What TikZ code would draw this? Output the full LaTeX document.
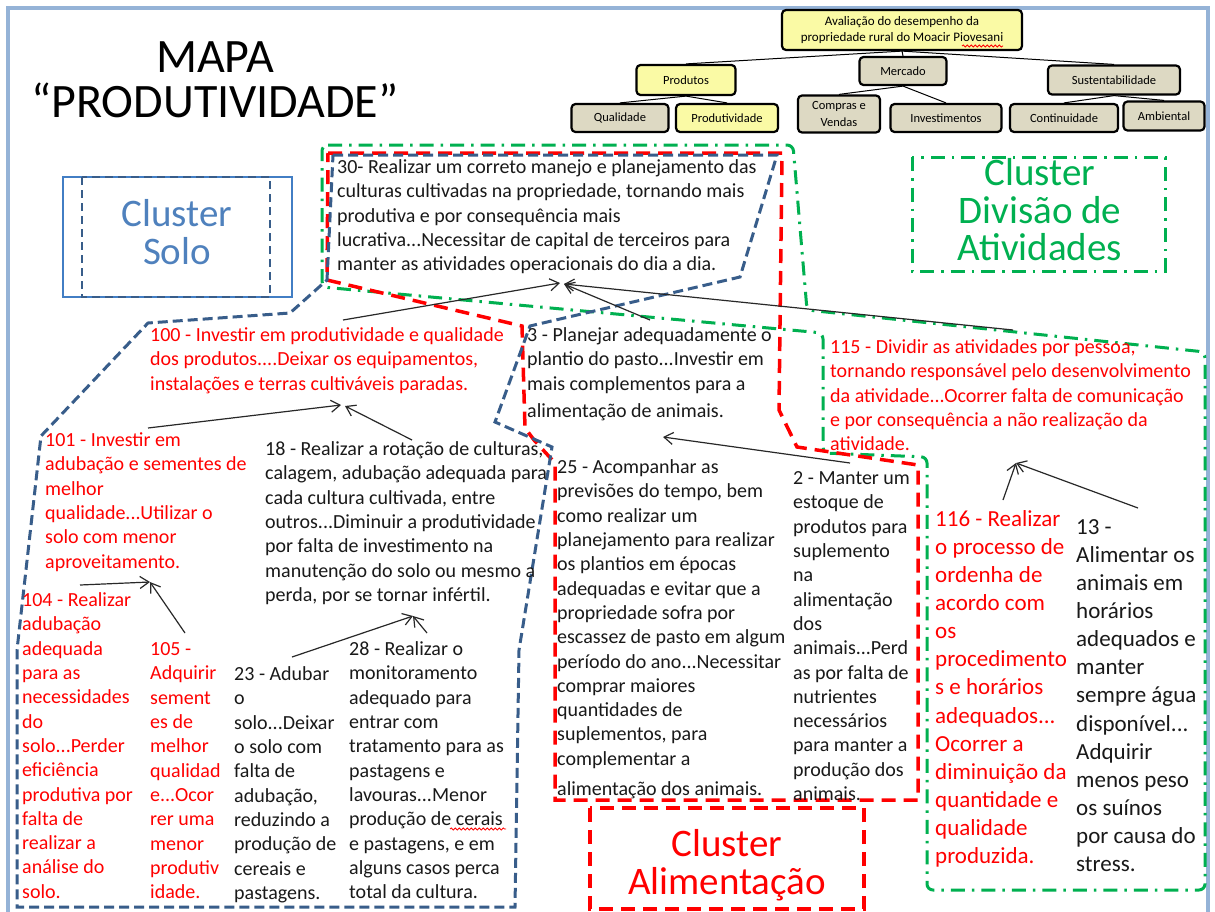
\documentclass[tikz,border=0pt]{standalone}
\usepackage{fontspec}
\setmainfont{Carlito}
\usetikzlibrary{arrows.meta,decorations.pathmorphing}

\definecolor{frameblue}{RGB}{149,179,215}
\definecolor{solotext}{RGB}{79,129,189}
\definecolor{sololine}{RGB}{56,93,138}
\definecolor{solorect}{RGB}{66,126,196}
\definecolor{clred}{RGB}{255,0,0}
\definecolor{clgreen}{RGB}{0,176,80}
\definecolor{txtred}{RGB}{255,0,0}
\definecolor{txtblack}{RGB}{25,25,25}
\definecolor{arrowgrey}{RGB}{40,40,40}
\definecolor{boxyellow}{RGB}{250,250,165}
\definecolor{boxtan}{RGB}{221,217,195}

\newcommand{\bodyfont}{\fontsize{20}{24.3}\selectfont}
\newcommand{\bigbodyfont}{\fontsize{23}{28.1}\selectfont}
\newcommand{\boxfont}{\fontsize{12.5}{17}\selectfont}
\newcommand{\rootfont}{\fontsize{13}{16}\selectfont}
\newcommand{\clusterfont}{\fontsize{39}{37.5}\selectfont}
\newcommand{\titlefont}{\fontsize{48}{45}\selectfont}

\begin{document}
\begin{tikzpicture}[x=1pt,y=-1pt,
  every node/.style={inner sep=0pt},
  blk/.style={anchor=north west, align=left, font=\bodyfont},
  blkbig/.style={anchor=north west, align=left, font=\bigbodyfont},
  redtxt/.style={text=txtred},
  darktxt/.style={text=txtblack},
  hnode/.style={draw=black, line width=2.2pt, rounded corners=4pt, font=\boxfont,
    align=center, text=black, inner sep=2pt},
  hyel/.style={hnode, fill=boxyellow},
  htan/.style={hnode, fill=boxtan},
  hlink/.style={draw=black, line width=1pt},
  arr/.style={draw=arrowgrey, line width=1.2pt, -{Straight Barb[length=9pt,width=12pt]}},
  soloborder/.style={draw=sololine, line width=3pt, dash pattern=on 10pt off 5pt},
  aliborder/.style={draw=clred, line width=3.5pt, dash pattern=on 14pt off 8pt},
  divborder/.style={draw=clgreen, line width=3pt, dash pattern=on 14pt off 7pt on 2.5pt off 7pt},
  clusterlabel/.style={align=center, font=\clusterfont},
  spell/.style={draw=clred, line width=0.8pt, decorate,
    decoration={snake, amplitude=1.1pt, segment length=4pt}}
]
\useasboundingbox (0,0) rectangle (1215,911);
\clip (0,0) rectangle (1215,911);
\fill[white] (0,0) rectangle (1215,911);

% outer frame
\draw[frameblue, line width=4.5pt] (8,8) rectangle (1208,940);

% title
\node[align=center, font=\titlefont, text=black] (title) at (215,80)
  {MAPA\\“PRODUTIVIDADE”};

% ---------- hierarchy ----------
\node[hyel, minimum width=240pt, minimum height=40pt, font=\rootfont] (root) at (902,30)
  {Avaliação do desempenho da\\propriedade rural do Moacir Piovesani};
\node[hyel, minimum width=99pt, minimum height=30pt] (prod) at (686,80) {Produtos};
\node[htan, minimum width=87pt, minimum height=28pt] (merc) at (903,71) {Mercado};
\node[htan, minimum width=132pt, minimum height=29pt] (sust) at (1114,80) {Sustentabilidade};
\node[htan, minimum width=97pt, minimum height=28pt] (qual) at (620,118) {Qualidade};
\node[hyel, minimum width=102pt, minimum height=28pt] (produt) at (727,118) {Produtividade};
\node[htan, minimum width=82pt, minimum height=37pt] (compras) at (839,114) {Compras e\\Vendas};
\node[htan, minimum width=111pt, minimum height=28pt] (invest) at (946,118) {Investimentos};
\node[htan, minimum width=108pt, minimum height=28pt] (cont) at (1064,118) {Continuidade};
\node[htan, minimum width=81pt, minimum height=29pt] (amb) at (1164,116) {Ambiental};
\draw[spell] (962,46) -- (1003,46);

\draw[hlink] (root.south) -- (prod.north);
\draw[hlink] (root.south) -- (merc.north);
\draw[hlink] (root.south) -- (sust.north);
\draw[hlink] (prod.south) -- (qual.north);
\draw[hlink] (prod.south) -- (produt.north);
\draw[hlink] (merc.south) -- (compras.north);
\draw[hlink] (merc.south) -- (invest.north);
\draw[hlink] (sust.south) -- (cont.north);
\draw[hlink] (sust.south) -- (amb.north);

% ---------- cluster labels ----------
\draw[solorect, line width=1.3pt] (63,177) rectangle (292,297);
\draw[sololine, line width=2.5pt, dash pattern=on 8pt off 5pt] (82,177) rectangle (270,297);
\node[clusterlabel, text=solotext] (csolo) at (177,232) {Cluster\\Solo};

\draw[divborder] (912,157) rectangle (1165,271);
\node[clusterlabel, text=clgreen] (cdiv) at (1040,210) {Cluster\\Divisão de\\Atividades};

\draw[aliborder] (590,808) rectangle (864,909);
\node[clusterlabel, text=clred] (cali) at (727,865) {Cluster\\Alimentação};

% ---------- cluster boundaries ----------
\draw[divborder, rounded corners=6pt] (322,145) -- (793,145) -- (807,310) -- (1205,352)
  -- (1205,890) -- (927,890) -- (927,457) -- (823,453) -- (823,333) -- (322,287) -- cycle;
\draw[aliborder] (328,153) -- (782,153) -- (779,410) -- (797,447) -- (918,465)
  -- (918,800) -- (555,800) -- (555,463) -- (534,440) -- (525,428) -- (522,326)
  -- (327,280) -- cycle;
\draw[soloborder] (333,155) -- (777,155) -- (740,277) -- (530,326) -- (495,422)
  -- (552,447) -- (519,650) -- (515,907) -- (17,907) -- (17,650) -- (41,436)
  -- (148,323) -- (290,313) -- (327,280) -- cycle;

% ---------- statements ----------
\node[blk, darktxt] (n30) at (337,156.4) {\strut 30- Realizar um correto manejo e planejamento das\\culturas cultivadas na propriedade, tornando mais\\produtiva e por consequência mais\\lucrativa...Necessitar de capital de terceiros para\\manter as atividades operacionais do dia a dia.};

\node[blk, redtxt] (n100) at (150,324.4) {\strut 100 - Investir em produtividade e qualidade\\dos produtos....Deixar os equipamentos,\\instalações e terras cultiváveis paradas.};

\node[blk, darktxt] (n3) at (527,324.4) {\strut 3 - Planejar adequadamente o\\plantio do pasto...Investir em\\mais complementos para a\\[3pt]alimentação de animais.};

\node[blk, redtxt] (n115) at (830,336.4) {\strut 115 - Dividir as atividades por pessoa,\\tornando responsável pelo desenvolvimento\\da atividade...Ocorrer falta de comunicação\\e por consequência a não realização da\\atividade.};

\node[blk, redtxt] (n101) at (45,429.4) {\strut 101 - Investir em\\adubação e sementes de\\melhor\\qualidade...Utilizar o\\solo com menor\\aproveitamento.};

\node[blk, darktxt] (n18) at (265,438.4) {\strut 18 - Realizar a rotação de culturas,\\calagem, adubação adequada para\\cada cultura cultivada, entre\\outros...Diminuir a produtividade\\por falta de investimento na\\manutenção do solo ou mesmo a\\perda, por se tornar infértil.};

\node[blk, darktxt] (n25) at (557,456.4) {\strut 25 - Acompanhar as\\previsões do tempo, bem\\como realizar um\\planejamento para realizar\\os plantios em épocas\\adequadas e evitar que a\\propriedade sofra por\\escassez de pasto em algum\\período do ano...Necessitar\\comprar maiores\\quantidades de\\suplementos, para\\complementar a\\[6pt]alimentação dos animais.};

\node[blk, darktxt] (n2) at (793,467.4) {\strut 2 - Manter um\\estoque de\\produtos para\\suplemento\\na\\alimentação\\dos\\animais...Perd\\as por falta de\\nutrientes\\necessários\\para manter a\\produção dos\\animais.};

\node[blkbig, redtxt] (n116) at (935,506.5) {\strut 116 - Realizar\\o processo de\\ordenha de\\acordo com\\os\\procedimento\\s e horários\\adequados...\\Ocorrer a\\diminuição da\\quantidade e\\qualidade\\produzida.};

\node[blkbig, darktxt] (n13) at (1076,514.5) {\strut 13 -\\Alimentar os\\animais em\\horários\\adequados e\\manter\\sempre água\\disponível...\\Adquirir\\menos peso\\os suínos\\por causa do\\stress.};

\node[blk, redtxt] (n104) at (22,589.4) {\strut 104 - Realizar\\adubação\\adequada\\para as\\necessidades\\do\\solo...Perder\\eficiência\\produtiva por\\falta de\\realizar a\\análise do\\solo.};

\node[blk, redtxt] (n105) at (150,638.4) {\strut 105 -\\Adquirir\\sement\\es de\\melhor\\qualidad\\e...Ocor\\rer uma\\menor\\produtiv\\idade.};

\node[blk, darktxt] (n23) at (234,663.4) {\strut 23 - Adubar\\o\\solo...Deixar\\o solo com\\falta de\\adubação,\\reduzindo a\\produção de\\cereais e\\pastagens.};

\node[blk, darktxt] (n28) at (349,638.4) {\strut 28 - Realizar o\\monitoramento\\adequado para\\entrar com\\tratamento para as\\pastagens e\\lavouras...Menor\\produção de cerais\\e pastagens, e em\\alguns casos perca\\total da cultura.};
\draw[spell] (450,829) -- (506,829);

% ---------- arrow end points ----------
\coordinate (t30a) at (560,283);
\coordinate (t30b) at (564,284);
\coordinate (s100) at (343,320);
\coordinate (s3) at (650,320);
\coordinate (s115) at (1013,330);
\coordinate (t3) at (663,437);
\coordinate (s2) at (850,463);
\coordinate (t100a) at (341,405);
\coordinate (t100b) at (345,406);
\coordinate (s101) at (148,428);
\coordinate (s18) at (412,440);
\coordinate (t101) at (150,582);
\coordinate (s104) at (80,585);
\coordinate (s105) at (185,633);
\coordinate (t18) at (413,616);
\coordinate (s23) at (292,657);
\coordinate (s28) at (427,633);
\coordinate (t115) at (1016,463);
\coordinate (s116) at (1003,500);
\coordinate (s13) at (1138,508);

% ---------- arrows ----------
\draw[arr] (s100) -- (t30a);
\draw[arr] (s3) -- (t30b);
\draw[arr] (s115) -- (t30b);
\draw[arr] (s2) -- (t3);
\draw[arr] (s101) -- (t100a);
\draw[arr] (s18) -- (t100b);
\draw[arr] (s104) -- (t101);
\draw[arr] (s105) -- (t101);
\draw[arr] (s23) -- (t18);
\draw[arr] (s28) -- (t18);
\draw[arr] (s116) -- (t115);
\draw[arr] (s13) -- (t115);
\end{tikzpicture}
\end{document}
